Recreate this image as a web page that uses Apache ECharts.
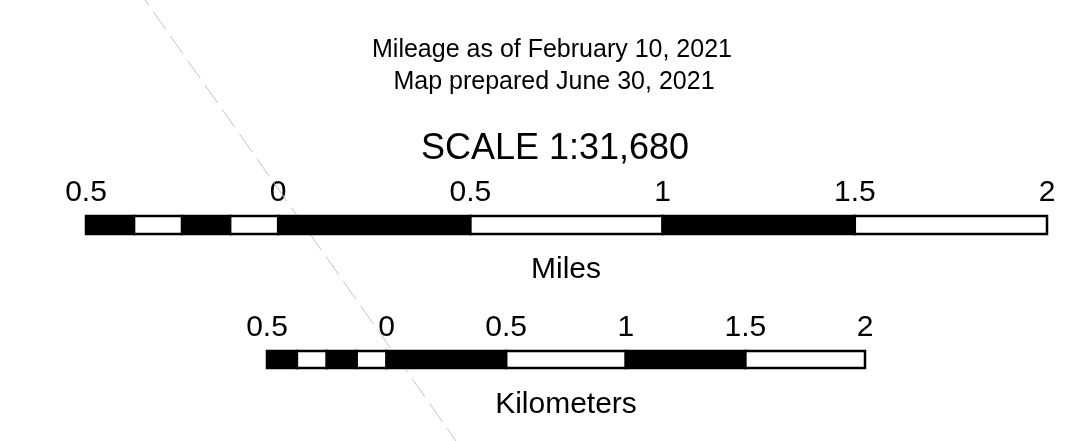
<!DOCTYPE html>
<html>
<head>
<meta charset="utf-8">
<title>Scale bar</title>
<script src="https://cdn.jsdelivr.net/npm/echarts@6/dist/echarts.min.js"></script>
<style>
  html, body { margin: 0; padding: 0; background: #fff; }
  #main { width: 1072px; height: 441px; }
</style>
</head>
<body>
<div id="main"></div>
<script>
  // segments: [start, end, row, white?]
  var mileSegments = [
    [-0.5, -0.375, 0, 0], [-0.375, -0.25, 0, 1], [-0.25, -0.125, 0, 0], [-0.125, 0, 0, 1],
    [0, 0.5, 0, 0], [0.5, 1, 0, 1], [1, 1.5, 0, 0], [1.5, 2, 0, 1]
  ];
  var kmSegments = [
    [-0.5, -0.375, 0, 0], [-0.375, -0.25, 0, 1], [-0.25, -0.125, 0, 0], [-0.125, 0, 0, 1],
    [0, 0.5, 0, 0], [0.5, 1, 0, 1], [1, 1.5, 0, 0], [1.5, 2, 0, 1]
  ];
  var tickMin = -0.5;
  var tickMax = 2;
  var tickStep = 0.5;
  var headerLines = ['Mileage as of February 10, 2021', 'Map prepared June 30, 2021'];
  var scaleText = 'SCALE 1:31,680';
  var unitNames = ['Miles', 'Kilometers'];
  // faint dashed guide line crossing the image (pixel space)
  var guideLine = [[145, 0], [456, 441]];

  var font = '"Liberation Sans", Arial, sans-serif';

  function renderSegment(params, api) {
    var s = api.coord([api.value(0), api.value(2)]);
    var e = api.coord([api.value(1), api.value(2)]);
    var h = api.size([0, 1])[1];
    return {
      type: 'rect',
      shape: { x: s[0], y: s[1] - h / 2, width: e[0] - s[0], height: h },
      style: { fill: api.value(3) ? '#fff' : '#000', stroke: '#000', lineWidth: 2.5 }
    };
  }

  function scaleAxis(gridIndex, margin) {
    return {
      type: 'value', gridIndex: gridIndex, position: 'top',
      min: tickMin, max: tickMax, interval: tickStep,
      axisLine: { show: false }, axisTick: { show: false }, splitLine: { show: false },
      axisLabel: {
        margin: margin, verticalAlign: 'middle', fontSize: 30, color: '#000', fontFamily: font,
        formatter: function (v) { return String(Math.abs(v)); }
      }
    };
  }

  function textItem(str, x, y, size) {
    return {
      type: 'text', x: x, y: y, silent: true,
      style: { text: str, fill: '#000', font: size + 'px ' + font, textAlign: 'center', textVerticalAlign: 'middle' }
    };
  }

  var myChart = echarts.init(document.getElementById('main'));
  myChart.setOption({
    animation: false,
    grid: [
      { left: 86, right: 25, top: 216, height: 18 },
      { left: 267, right: 207, top: 351, height: 17 },
      { left: 0, right: 0, top: 0, bottom: 0 }
    ],
    xAxis: [
      scaleAxis(0, 23),
      scaleAxis(1, 23),
      { type: 'value', gridIndex: 2, min: 0, max: 1072, show: false }
    ],
    yAxis: [
      { type: 'category', gridIndex: 0, data: ['bar'], show: false },
      { type: 'category', gridIndex: 1, data: ['bar'], show: false },
      { type: 'value', gridIndex: 2, min: 0, max: 441, inverse: true, show: false }
    ],
    graphic: [
      textItem(headerLines[0], 552, 50, 25),
      textItem(headerLines[1], 554, 82, 25),
      textItem(scaleText, 555, 149, 36),
      textItem(unitNames[0], 566, 270, 30),
      textItem(unitNames[1], 566, 405, 30)
    ],
    series: [
      {
        type: 'line', xAxisIndex: 2, yAxisIndex: 2, data: guideLine,
        symbol: 'none', silent: true, z: 1,
        lineStyle: { color: '#c4c4c4', width: 1, type: [22, 8], dashOffset: 16 }
      },
      {
        type: 'custom', xAxisIndex: 0, yAxisIndex: 0, data: mileSegments,
        encode: { x: [0, 1], y: 2 }, renderItem: renderSegment, z: 2
      },
      {
        type: 'custom', xAxisIndex: 1, yAxisIndex: 1, data: kmSegments,
        encode: { x: [0, 1], y: 2 }, renderItem: renderSegment, z: 2
      }
    ]
  });
</script>
</body>
</html>
